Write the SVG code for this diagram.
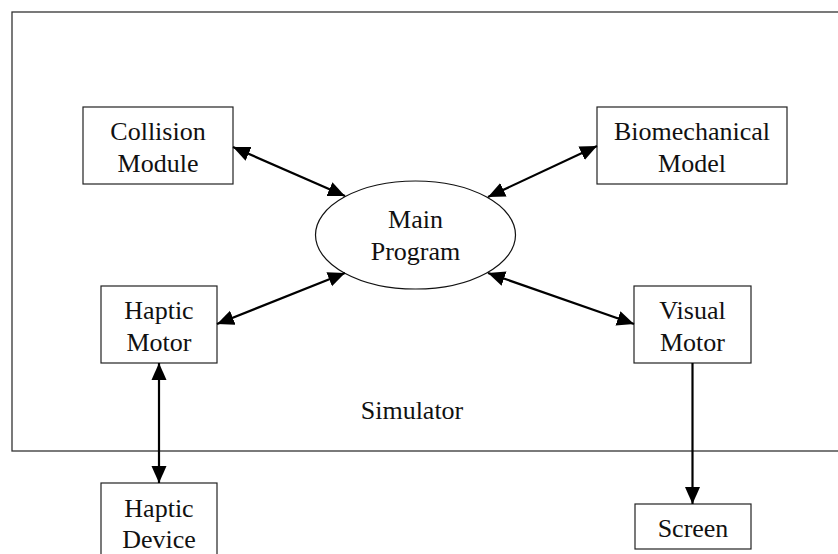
<svg xmlns="http://www.w3.org/2000/svg" width="838" height="554" viewBox="0 0 838 554">
<style>
.box{fill:#fff;stroke:#222;stroke-width:1.2}
.t{font-family:"Liberation Serif","Times New Roman",serif;font-size:26px;fill:#111;text-anchor:middle}
.c{stroke:#000;stroke-width:2.2;fill:none}
</style>
<defs>
<marker id="ah" markerUnits="userSpaceOnUse" markerWidth="18" markerHeight="16" refX="17" refY="8" orient="auto-start-reverse" viewBox="0 0 18 16">
<path d="M0,0.5 L17,8 L0,15.5 z" fill="#000"/>
</marker>
</defs>
<rect x="0" y="0" width="838" height="554" fill="#fff"/>
<g id="simulator">
<rect x="12" y="12" width="840" height="439" fill="none" stroke="#333" stroke-width="1.3"/>
<text class="t" x="412" y="419">Simulator</text>
</g>
<g id="collision">
<rect class="box" x="83" y="107" width="150" height="77"/>
<text class="t" x="158" y="140">Collision</text>
<text class="t" x="158" y="172">Module</text>
</g>
<g id="biomechanical">
<rect class="box" x="597" y="107" width="190" height="77"/>
<text class="t" x="692" y="140">Biomechanical</text>
<text class="t" x="692" y="172">Model</text>
</g>
<g id="main">
<ellipse cx="415.5" cy="235" rx="100" ry="54" fill="#fff" stroke="#111" stroke-width="1.2"/>
<text class="t" x="415.5" y="228">Main</text>
<text class="t" x="415.5" y="260">Program</text>
</g>
<g id="hapticMotor">
<rect class="box" x="101" y="286" width="116" height="77"/>
<text class="t" x="159" y="319">Haptic</text>
<text class="t" x="159" y="351">Motor</text>
</g>
<g id="visualMotor">
<rect class="box" x="634" y="286" width="117" height="77"/>
<text class="t" x="692.5" y="319">Visual</text>
<text class="t" x="692.5" y="351">Motor</text>
</g>
<g id="hapticDevice">
<rect class="box" x="101" y="483" width="116" height="80"/>
<text class="t" x="159" y="517">Haptic</text>
<text class="t" x="159" y="548">Device</text>
</g>
<g id="screen">
<rect class="box" x="635" y="504" width="116" height="45"/>
<text class="t" x="693" y="537">Screen</text>
</g>
<g id="connectors">
<line class="c" x1="233" y1="147" x2="345" y2="196" marker-start="url(#ah)" marker-end="url(#ah)"/>
<line class="c" x1="597" y1="146" x2="488" y2="197" marker-start="url(#ah)" marker-end="url(#ah)"/>
<line class="c" x1="217" y1="324" x2="345" y2="273" marker-start="url(#ah)" marker-end="url(#ah)"/>
<line class="c" x1="634" y1="324" x2="488" y2="273" marker-start="url(#ah)" marker-end="url(#ah)"/>
<line class="c" x1="159" y1="363" x2="159" y2="483" marker-start="url(#ah)" marker-end="url(#ah)"/>
<line class="c" x1="692.5" y1="363" x2="692.5" y2="504" marker-end="url(#ah)"/>
</g>
</svg>
